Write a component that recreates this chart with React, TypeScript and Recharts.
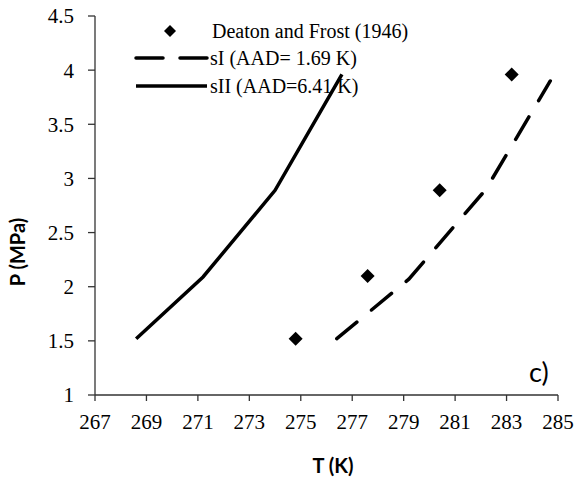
import React from "react";
import { Scatter, ScatterChart, XAxis, YAxis } from "recharts";

// 軸の目盛り
const xTicks = [267, 269, 271, 273, 275, 277, 279, 281, 283, 285];
const yTicks = [1, 1.5, 2, 2.5, 3, 3.5, 4, 4.5];

// Deaton and Frost (1946) 実験値
const deatonT = [274.8, 277.6, 280.4, 283.2];
const deatonP = [1.52, 2.1, 2.89, 3.96];

// sI 計算値
const sIT = [276.4, 279.2, 282.2, 284.7];
const sIP = [1.52, 2.07, 2.9, 3.9];

// sII 計算値
const sIIT = [268.6, 271.2, 274.0, 276.6];
const sIIP = [1.52, 2.09, 2.89, 3.96];

const toPoints = (t: number[], p: number[]) => t.map((T, i) => ({ T, P: p[i] }));

const serif = "Liberation Serif";
const sans = "Lato";
const axisColor = "#333";
const axisLine = { stroke: axisColor, strokeWidth: 1.3 };
const tickFont = { fill: "#000", fontSize: 21, fontFamily: serif };

const Diamond = ({ cx, cy }: { cx?: number; cy?: number }) => {
  if (cx == null || cy == null) return <g />;
  const s = 7;
  return <polygon points={`${cx},${cy - s} ${cx + s},${cy} ${cx},${cy + s} ${cx - s},${cy}`} fill="#000" />;
};

const NoDot = () => <g />;

// 凡例・軸タイトル（グラフの上に重ねる）
const Overlay = () => (
  <svg width={576} height={485} style={{ position: "absolute", left: 0, top: 0, pointerEvents: "none" }}>
    <polygon points="170,25 176,31 170,37 164,31" fill="#000" />
    <text x={212} y={31} dominantBaseline="central" fontSize={20} fontFamily={serif}>Deaton and Frost (1946)</text>
    <line x1={136} y1={58} x2={207} y2={58} stroke="#000" strokeWidth={3.5} strokeDasharray="27 17" strokeLinecap="round" />
    <text x={210} y={58} dominantBaseline="central" fontSize={20} fontFamily={serif}>sI (AAD= 1.69 K)</text>
    <line x1={136} y1={86} x2={207} y2={86} stroke="#000" strokeWidth={3.5} />
    <text x={210} y={86} dominantBaseline="central" fontSize={20} fontFamily={serif}>sII (AAD=6.41 K)</text>
    <text x={333} y={473} textAnchor="middle" fontSize={20} fontWeight="bold" fontFamily={sans}>T (K)</text>
    <text x={25} y={252} textAnchor="middle" fontSize={20} fontWeight="bold" fontFamily={sans} transform="rotate(-90 25 252)">P (MPa)</text>
    <text x={529} y={382} fontSize={27} fontFamily={sans}>c)</text>
  </svg>
);

const App: React.FC = () => {
  return (
    <div style={{ position: "absolute", left: 0, top: 0, width: 576, height: 485, background: "#fff" }}>
      <ScatterChart width={576} height={485} margin={{ top: 16, right: 18, left: 35, bottom: 30 }}>
        <XAxis
          type="number"
          dataKey="T"
          domain={[267, 285]}
          ticks={xTicks}
          interval={0}
          height={60}
          tickMargin={13}
          axisLine={axisLine}
          tickLine={axisLine}
          tick={tickFont}
        />
        <YAxis
          type="number"
          dataKey="P"
          domain={[1, 4.5]}
          ticks={yTicks}
          interval={0}
          width={60}
          tickSize={7}
          tickMargin={14}
          axisLine={axisLine}
          tickLine={axisLine}
          tick={tickFont}
        />
        {/* 上・右の枠線 */}
        <XAxis xAxisId="top" orientation="top" type="number" domain={[267, 285]} height={0} tick={false} tickLine={false} axisLine={axisLine} />
        <YAxis yAxisId="right" orientation="right" type="number" domain={[1, 4.5]} width={0} tick={false} tickLine={false} axisLine={axisLine} />
        <Scatter
          name="sII"
          data={toPoints(sIIT, sIIP)}
          shape={NoDot}
          line={{ stroke: "#000", strokeWidth: 3.5 }}
          isAnimationActive={false}
        />
        <Scatter
          name="sI"
          data={toPoints(sIT, sIP)}
          shape={NoDot}
          line={{ stroke: "#000", strokeWidth: 3.5, strokeDasharray: "26 19", strokeLinecap: "round" }}
          isAnimationActive={false}
        />
        <Scatter name="Deaton and Frost (1946)" data={toPoints(deatonT, deatonP)} shape={Diamond} isAnimationActive={false} />
      </ScatterChart>
      <Overlay />
    </div>
  );
};

export default App;
